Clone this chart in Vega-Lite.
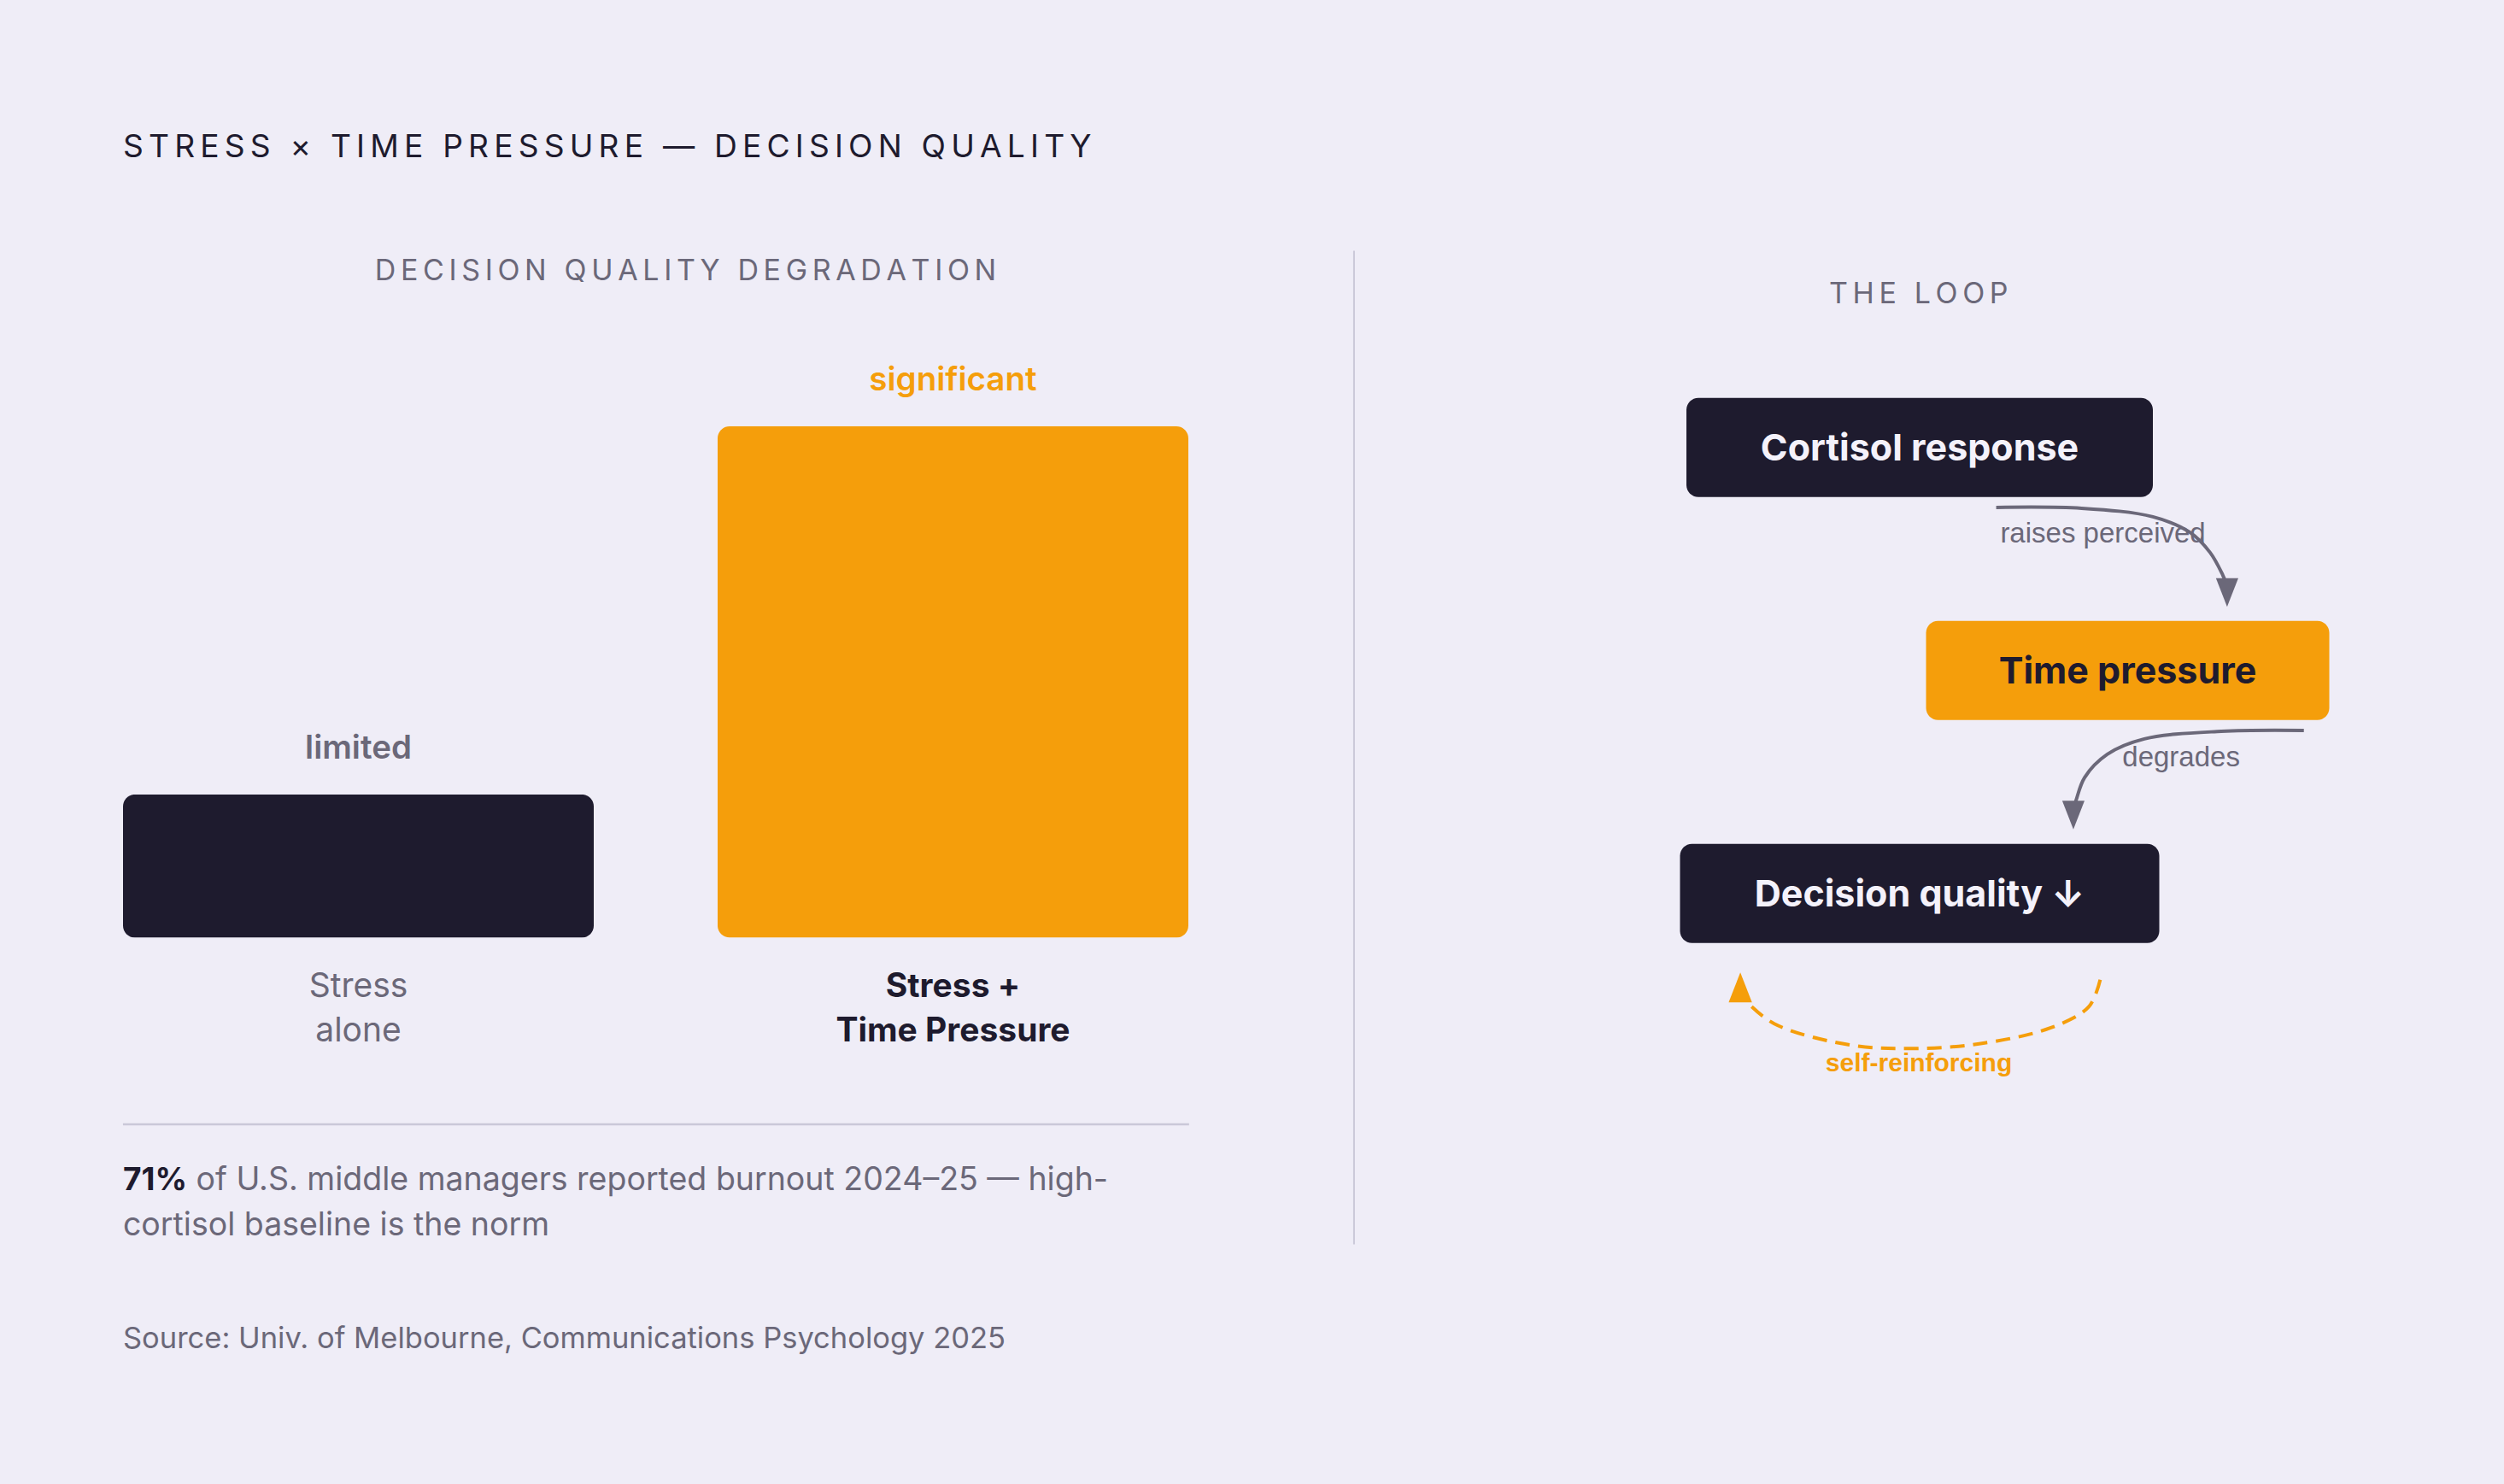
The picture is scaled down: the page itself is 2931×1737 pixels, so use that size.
{
  "$schema": "https://vega.github.io/schema/vega-lite/v6.json",
  "width": 2931,
  "height": 1737,
  "autosize": {"type": "fit", "contains": "padding"},
  "padding": 0,
  "background": "#efedf7",
  "config": {"view": {"stroke": null}, "font": "Inter"},
  "resolve": {"scale": {"x": "independent", "y": "independent", "color": "independent", "fill": "independent"}},
  "layer": [
    {
      "layer": [
        {
          "data": {"values": [{"part": "divider"}]},
          "mark": {"type": "rule", "stroke": "#cac8d8", "strokeWidth": 2},
          "encoding": {
            "x": {"datum": 847.9, "scale": {"domain": [0, 1568], "nice": false, "zero": false}, "axis": null},
            "y": {"datum": 157, "scale": {"domain": [0, 929], "reverse": true, "nice": false, "zero": false}, "axis": null},
            "y2": {"datum": 779}
          }
        },
        {
          "data": {"values": [{"part": "separator"}]},
          "mark": {"type": "rule", "stroke": "#cac8d8", "strokeWidth": 2.5},
          "encoding": {
            "x": {"datum": 77, "scale": {"domain": [0, 1568], "nice": false, "zero": false}, "axis": null},
            "x2": {"datum": 744.6},
            "y": {"datum": 703.8, "scale": {"domain": [0, 929], "reverse": true, "nice": false, "zero": false}, "axis": null}
          }
        },
        {
          "data": {"values": [{"text": "S\u2006T\u2006R\u2006E\u2006S\u2006S\u2006 \u2006×\u2006 \u2006T\u2006I\u2006M\u2006E\u2006 \u2006P\u2006R\u2006E\u2006S\u2006S\u2006U\u2006R\u2006E\u2006 \u2006—\u2006 \u2006D\u2006E\u2006C\u2006I\u2006S\u2006I\u2006O\u2006N\u2006 \u2006Q\u2006U\u2006A\u2006L\u2006I\u2006T\u2006Y"}]},
          "mark": {"type": "text", "align": "left", "baseline": "alphabetic", "fontSize": 37.2, "fontWeight": 400, "color": "#1e1b2e"},
          "encoding": {
            "x": {"datum": 77, "scale": {"domain": [0, 1568], "nice": false, "zero": false}, "axis": null},
            "y": {"datum": 98.4, "scale": {"domain": [0, 929], "reverse": true, "nice": false, "zero": false}, "axis": null},
            "text": {"field": "text"}
          }
        },
        {
          "data": {"values": [{"text": "D\u2006E\u2006C\u2006I\u2006S\u2006I\u2006O\u2006N\u2006 \u2006Q\u2006U\u2006A\u2006L\u2006I\u2006T\u2006Y\u2006 \u2006D\u2006E\u2006G\u2006R\u2006A\u2006D\u2006A\u2006T\u2006I\u2006O\u2006N"}]},
          "mark": {"type": "text", "align": "center", "baseline": "alphabetic", "fontSize": 34, "color": "#6b6879"},
          "encoding": {
            "x": {"datum": 429.3, "scale": {"domain": [0, 1568], "nice": false, "zero": false}, "axis": null},
            "y": {"datum": 175.4, "scale": {"domain": [0, 929], "reverse": true, "nice": false, "zero": false}, "axis": null},
            "text": {"field": "text"}
          }
        },
        {
          "data": {"values": [{"text": "T\u2006H\u2006E\u2006 \u2006L\u2006O\u2006O\u2006P"}]},
          "mark": {"type": "text", "align": "center", "baseline": "alphabetic", "fontSize": 34, "color": "#6b6879"},
          "encoding": {
            "x": {"datum": 1201.4, "scale": {"domain": [0, 1568], "nice": false, "zero": false}, "axis": null},
            "y": {"datum": 190.1, "scale": {"domain": [0, 929], "reverse": true, "nice": false, "zero": false}, "axis": null},
            "text": {"field": "text"}
          }
        },
        {
          "data": {"values": [{"text": "71%"}]},
          "mark": {"type": "text", "align": "left", "baseline": "alphabetic", "fontSize": 37, "fontWeight": 700, "color": "#1e1b2e"},
          "encoding": {
            "x": {"datum": 77, "scale": {"domain": [0, 1568], "nice": false, "zero": false}, "axis": null},
            "y": {"datum": 745.2, "scale": {"domain": [0, 929], "reverse": true, "nice": false, "zero": false}, "axis": null},
            "text": {"field": "text"}
          }
        },
        {
          "data": {"values": [{"text": "of U.S. middle managers reported burnout 2024–25 — high-"}]},
          "mark": {"type": "text", "align": "left", "baseline": "alphabetic", "fontSize": 37.5, "color": "#6b6879"},
          "encoding": {
            "x": {"datum": 122.8, "scale": {"domain": [0, 1568], "nice": false, "zero": false}, "axis": null},
            "y": {"datum": 745.2, "scale": {"domain": [0, 929], "reverse": true, "nice": false, "zero": false}, "axis": null},
            "text": {"field": "text"}
          }
        },
        {
          "data": {"values": [{"text": "cortisol baseline is the norm"}]},
          "mark": {"type": "text", "align": "left", "baseline": "alphabetic", "fontSize": 37.5, "color": "#6b6879"},
          "encoding": {
            "x": {"datum": 77, "scale": {"domain": [0, 1568], "nice": false, "zero": false}, "axis": null},
            "y": {"datum": 773.2, "scale": {"domain": [0, 929], "reverse": true, "nice": false, "zero": false}, "axis": null},
            "text": {"field": "text"}
          }
        },
        {
          "data": {"values": [{"text": "Source: Univ. of Melbourne, Communications Psychology 2025"}]},
          "mark": {"type": "text", "align": "left", "baseline": "alphabetic", "fontSize": 34.5, "color": "#6b6879"},
          "encoding": {
            "x": {"datum": 77, "scale": {"domain": [0, 1568], "nice": false, "zero": false}, "axis": null},
            "y": {"datum": 844.1, "scale": {"domain": [0, 929], "reverse": true, "nice": false, "zero": false}, "axis": null},
            "text": {"field": "text"}
          }
        }
      ]
    },
    {
      "data": {
        "values": [
          {"condition": "Stress alone", "label": "Stress\nalone", "degradation": 28, "level": "limited"},
          {"condition": "Stress + Time Pressure", "label": "Stress +\nTime Pressure", "degradation": 100, "level": "significant"}
        ]
      },
      "encoding": {
        "x": {"field": "condition", "type": "nominal", "sort": null, "axis": null,
              "scale": {"type": "band", "range": [144, 1391], "paddingInner": 0.2083, "paddingOuter": 0}},
        "y": {"field": "degradation", "type": "quantitative", "axis": null,
              "scale": {"domain": [0, 100], "range": [1097.5, 499], "nice": false}}
      },
      "layer": [
        {
          "mark": {"type": "bar", "cornerRadius": 14},
          "encoding": {
            "fill": {"field": "condition", "type": "nominal", "legend": null,
                     "scale": {"domain": ["Stress alone", "Stress + Time Pressure"], "range": ["#1e1b2e", "#f59e0b"]}}
          }
        },
        {
          "mark": {"type": "text", "baseline": "alphabetic", "align": "center", "dy": -42, "fontSize": 38.5, "fontWeight": 600},
          "encoding": {
            "text": {"field": "level"},
            "color": {"field": "condition", "type": "nominal", "legend": null,
                      "scale": {"domain": ["Stress alone", "Stress + Time Pressure"], "range": ["#6b6879", "#f59e0b"]}}
          }
        },
        {
          "transform": [{"filter": "datum.condition === 'Stress alone'"}],
          "mark": {"type": "text", "baseline": "alphabetic", "align": "center", "dy": 69, "fontSize": 39, "lineBreak": "\n", "lineHeight": 52, "color": "#6b6879"},
          "encoding": {"y": {"datum": 0}, "text": {"field": "label"}}
        },
        {
          "transform": [{"filter": "datum.condition !== 'Stress alone'"}],
          "mark": {"type": "text", "baseline": "alphabetic", "align": "center", "dy": 69, "fontSize": 39, "fontWeight": 700, "lineBreak": "\n", "lineHeight": 52, "color": "#1e1b2e"},
          "encoding": {"y": {"datum": 0}, "text": {"field": "label"}}
        }
      ]
    },
    {
      "encoding": {
        "x": {"field": "lane", "type": "quantitative", "axis": null,
              "scale": {"domain": [0, 1], "range": [2247, 2490.5], "nice": false, "zero": false}},
        "y": {"field": "step", "type": "quantitative", "axis": null,
              "scale": {"domain": [1, 3], "range": [523.7, 1045.8], "nice": false, "zero": false}}
      },
      "layer": [
        {
          "data": {"values": [
            {"label": "raises perceived", "lane": 0.881, "step": 1.426},
            {"label": "degrades", "lane": 1.257, "step": 2.429}
          ]},
          "mark": {"type": "text", "font": "Liberation Sans", "fontSize": 33, "align": "center", "baseline": "alphabetic", "color": "#6b6879"},
          "encoding": {"text": {"field": "label"}}
        },
        {
          "data": {"values": [
            {"label": "self-reinforcing", "lane": -0.004, "step": 3.799}
          ]},
          "mark": {"type": "text", "font": "Liberation Sans", "fontSize": 30, "fontWeight": "bold", "align": "center", "baseline": "alphabetic", "color": "#f59e0b"},
          "encoding": {"text": {"field": "label"}}
        },
        {
          "data": {"values": [
            {"edge": "raises perceived", "order": 0, "lane": 0.368, "step": 1.269},
            {"edge": "raises perceived", "order": 1, "lane": 0.779, "step": 1.273},
            {"edge": "raises perceived", "order": 2, "lane": 1.121, "step": 1.311},
            {"edge": "raises perceived", "order": 3, "lane": 1.298, "step": 1.38},
            {"edge": "raises perceived", "order": 4, "lane": 1.396, "step": 1.471},
            {"edge": "raises perceived", "order": 5, "lane": 1.457, "step": 1.572},
            {"edge": "raises perceived", "order": 6, "lane": 1.474, "step": 1.61},
            {"edge": "degrades", "order": 0, "lane": 1.847, "step": 2.269},
            {"edge": "degrades", "order": 1, "lane": 1.45, "step": 2.273},
            {"edge": "degrades", "order": 2, "lane": 1.08, "step": 2.307},
            {"edge": "degrades", "order": 3, "lane": 0.902, "step": 2.376},
            {"edge": "degrades", "order": 4, "lane": 0.793, "step": 2.48},
            {"edge": "degrades", "order": 5, "lane": 0.752, "step": 2.582},
            {"edge": "degrades", "order": 6, "lane": 0.741, "step": 2.614}
          ]},
          "mark": {"type": "line", "interpolate": "catmull-rom", "stroke": "#6b6879", "strokeWidth": 4},
          "encoding": {"detail": {"field": "edge"}, "order": {"field": "order"}}
        },
        {
          "data": {"values": [
            {"edge": "self-reinforcing", "order": 0, "lane": 0.868, "step": 3.387},
            {"edge": "self-reinforcing", "order": 1, "lane": 0.813, "step": 3.508},
            {"edge": "self-reinforcing", "order": 2, "lane": 0.628, "step": 3.603},
            {"edge": "self-reinforcing", "order": 3, "lane": 0.286, "step": 3.674},
            {"edge": "self-reinforcing", "order": 4, "lane": -0.029, "step": 3.695},
            {"edge": "self-reinforcing", "order": 5, "lane": -0.33, "step": 3.68},
            {"edge": "self-reinforcing", "order": 6, "lane": -0.699, "step": 3.584},
            {"edge": "self-reinforcing", "order": 7, "lane": -0.842, "step": 3.476}
          ]},
          "mark": {"type": "line", "interpolate": "catmull-rom", "stroke": "#f59e0b", "strokeWidth": 4, "strokeDash": [17, 10]},
          "encoding": {"order": {"field": "order"}}
        },
        {
          "data": {"values": [
            {"edge": "raises perceived", "lane": 1.478, "step": 1.65},
            {"edge": "degrades", "lane": 0.739, "step": 2.648},
            {"edge": "self-reinforcing", "lane": -0.862, "step": 3.421}
          ]},
          "mark": {"type": "point", "filled": true, "opacity": 1, "strokeWidth": 0},
          "encoding": {
            "shape": {"condition": {"test": "datum.edge === 'self-reinforcing'", "value": "M-0.78,1L0.78,1L0,-1Z"}, "value": "M-0.78,-1L0.78,-1L0,1Z"},
            "size": {"condition": {"test": "datum.edge === 'self-reinforcing'", "value": 1225}, "value": 1122},
            "color": {"condition": {"test": "datum.edge === 'self-reinforcing'", "value": "#f59e0b"}, "value": "#6b6879"}
          }
        },
        {
          "data": {"name": "nodes", "values": [
            {"node": "Cortisol response", "step": 1, "lane": 0},
            {"node": "Time pressure", "step": 2, "lane": 1},
            {"node": "Decision quality ↓", "step": 3, "lane": 0}
          ]},
          "layer": [
            {
              "transform": [{"filter": "datum.node === 'Cortisol response'"}],
              "mark": {"type": "rect", "cornerRadius": 14, "color": "#1e1b2e", "xOffset": -273, "x2Offset": 273, "yOffset": -58, "y2Offset": 58},
              "encoding": {"x2": {"field": "lane"}, "y2": {"field": "step"}}
            },
            {
              "transform": [{"filter": "datum.node === 'Time pressure'"}],
              "mark": {"type": "rect", "cornerRadius": 14, "color": "#f59e0b", "xOffset": -236, "x2Offset": 236, "yOffset": -58, "y2Offset": 58},
              "encoding": {"x2": {"field": "lane"}, "y2": {"field": "step"}}
            },
            {
              "transform": [{"filter": "datum.node === 'Decision quality ↓'"}],
              "mark": {"type": "rect", "cornerRadius": 14, "color": "#1e1b2e", "xOffset": -280.5, "x2Offset": 280.5, "yOffset": -58, "y2Offset": 58},
              "encoding": {"x2": {"field": "lane"}, "y2": {"field": "step"}}
            },
            {
              "mark": {"type": "text", "align": "center", "baseline": "alphabetic", "dy": 15, "fontSize": 43, "fontWeight": 700},
              "encoding": {
                "text": {"field": "node"},
                "color": {"condition": {"test": "datum.node === 'Time pressure'", "value": "#1e1b2e"}, "value": "#f4f2fb"}
              }
            }
          ]
        }
      ]
    }
  ]
}
